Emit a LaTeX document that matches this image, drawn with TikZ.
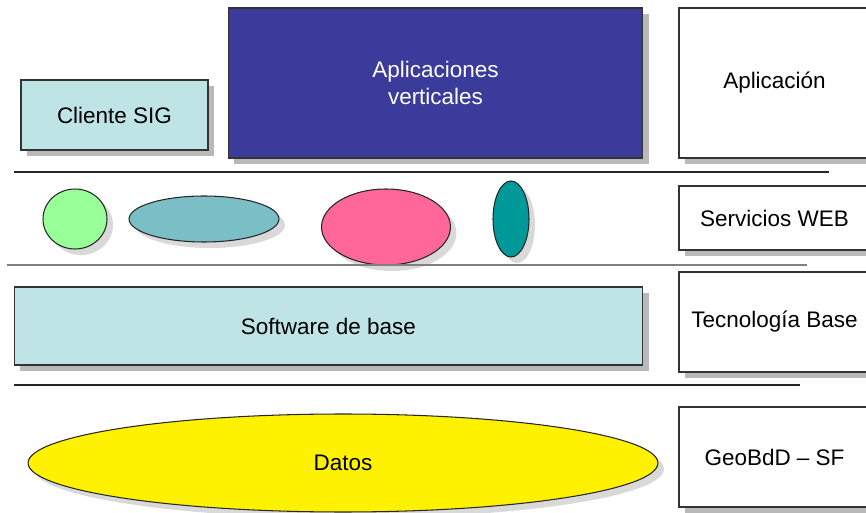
\documentclass[tikz,border=0pt]{standalone}
\usepackage{fontspec}
\setmainfont{Liberation Sans}
\usepackage{tikz}
\usetikzlibrary{shapes.geometric, shadows}
\definecolor{azulosc}{HTML}{3B3B9B}
\definecolor{celeste}{HTML}{BFE4E6}
\definecolor{verdecl}{HTML}{99FF99}
\definecolor{turques}{HTML}{7BBFC6}
\definecolor{rosa}{HTML}{FF6699}
\definecolor{verdeaz}{HTML}{009999}
\tikzstyle{capa} = [rectangle, minimum width=3.82cm, minimum height=2cm, text centered, draw=black!80, line width=0.6pt, fill=white, drop shadow={shadow xshift=0.12cm, shadow yshift=-0.12cm, fill=gray!55, opacity=1}]
\tikzstyle{bloque} = [rectangle, text centered, draw=black!80, line width=0.6pt, drop shadow={shadow xshift=0.12cm, shadow yshift=-0.12cm, fill=gray!55, opacity=1}]
\tikzstyle{servicio} = [ellipse, inner sep=0pt, draw=black!85, line width=0.6pt, drop shadow={shadow xshift=0.12cm, shadow yshift=-0.12cm, fill=gray!30, opacity=1}]
\tikzstyle{separador} = [line width=0.6pt, black!85]

\begin{document}
\begin{tikzpicture}[x=0.02cm, y=-0.02cm, font=\fontsize{12.8}{15.3}\selectfont]

\useasboundingbox (0,0) rectangle (866,513);
\clip (0,0) rectangle (866,513);

% capa de aplicacion
\node (cliente) [bloque, fill=celeste, minimum width=3.74cm, minimum height=1.4cm] at (114.5,115) {Cliente SIG};
\node (verticales) [bloque, fill=azulosc, text=white, align=center, minimum width=8.3cm, minimum height=3cm] at (435.5,83) {Aplicaciones\\verticales};
\node (aplicacion) [capa, minimum height=3cm] at (774.5,83) {Aplicación};
\draw [separador] (14,172) -- (829,172);

% servicios web
\node (circulo) [servicio, fill=verdecl, minimum width=1.28cm, minimum height=1.2cm] at (75,219) {};
\node (turquesa) [servicio, fill=turques, minimum width=3cm, minimum height=0.92cm] at (204,219) {};
\node (rosado) [servicio, fill=rosa, minimum width=2.58cm, minimum height=1.52cm] at (386,227) {};
\node (vertical) [servicio, fill=verdeaz, minimum width=0.72cm, minimum height=1.52cm] at (511,219) {};
\node (servicios) [capa, minimum height=1.28cm] at (774.5,218) {Servicios WEB};
\draw [line width=1.1pt, gray] (7,265) -- (807,265);

% tecnologia base
\node (software) [bloque, fill=celeste, minimum width=12.58cm, minimum height=1.56cm] at (328.5,326) {Software de base};
\node (tecnologia) [capa] at (774.5,322) {Tecnología Base};
\draw [separador] (14,385) -- (800,385);

% datos
\node (datos) [servicio, fill=yellow, minimum width=12.6cm, minimum height=1.96cm] at (343,463) {Datos};
\node (geobdd) [capa] at (774.5,457) {GeoBdD – SF};

\end{tikzpicture}
\end{document}
